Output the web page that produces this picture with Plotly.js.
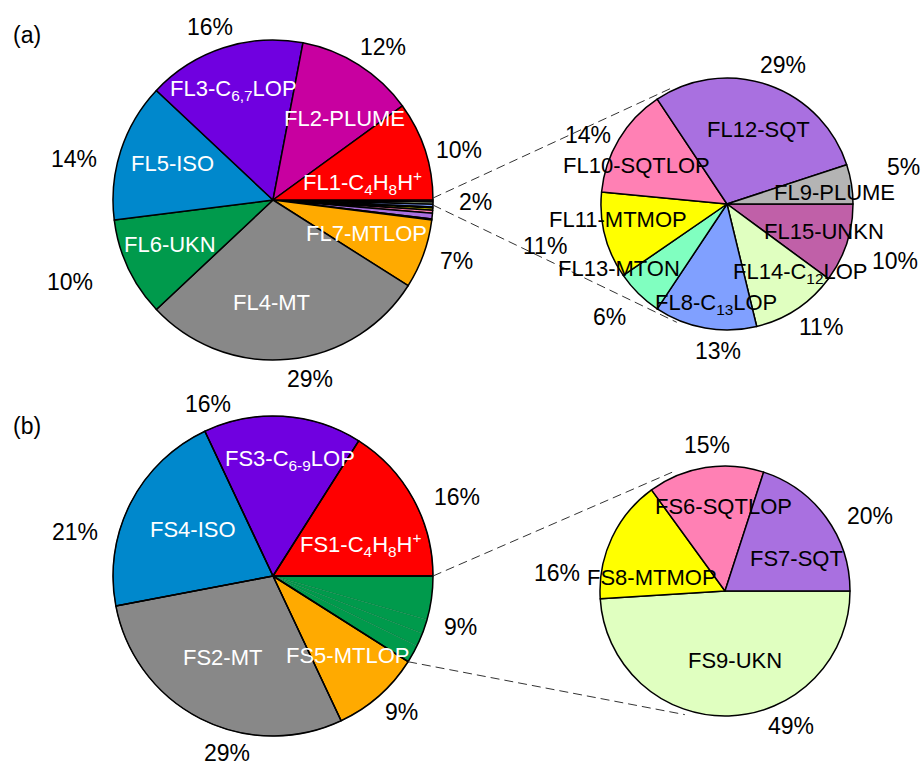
<!DOCTYPE html>
<html><head><meta charset="utf-8">
<script src="https://cdn.plot.ly/plotly-3.0.1.min.js"></script>
<style>html,body{margin:0;padding:0;background:#fff;overflow:hidden}</style>
</head><body><div id="chart" style="width:922px;height:768px"></div>
<script>
// ---------------- data ----------------
const bigA_labels = ['FL1-C<sub>4</sub>H<sub>8</sub>H<sup>+</sup>', 'FL2-PLUME', 'FL3-C<sub>6,7</sub>LOP', 'FL5-ISO', 'FL6-UKN', 'FL4-MT', 'FL7-MTLOP'];
const bigA_values = [10, 12, 16, 14, 10, 29, 7];
const otherA_value = 2;   // FL8–FL15 combined
const smallA_labels = ['FL9-PLUME', 'FL12-SQT', 'FL10-SQTLOP', 'FL11-MTMOP', 'FL13-MTON', 'FL8-C<sub>13</sub>LOP', 'FL14-C<sub>12</sub>LOP', 'FL15-UNKN'];
const smallA_values = [5, 29, 14, 11, 6, 13, 11, 10];

const bigB_labels = ['FS1-C<sub>4</sub>H<sub>8</sub>H<sup>+</sup>', 'FS3-C<sub>6-9</sub>LOP', 'FS4-ISO', 'FS2-MT', 'FS5-MTLOP'];
const bigB_values = [16, 16, 21, 29, 9];
const otherB_value = 9;   // FS6–FS9 combined
const smallB_labels = ['FS7-SQT', 'FS6-SQTLOP', 'FS8-MTMOP', 'FS9-UKN'];
const smallB_values = [20, 15, 16, 49];

// ---------------- styles ----------------
const bigA_colors = ['#ff0000', '#c800a0', '#7000e0', '#0088cc', '#009a4c', '#888888', '#ffaa00'];
const smallA_colors = ['#b4b4b4', '#a970e0', '#ff80b4', '#ffff00', '#80ffc0', '#80a0ff', '#e0ffc0', '#c060a8'];
const bigB_colors = ['#ff0000', '#7000e0', '#0088cc', '#888888', '#ffaa00'];
const otherB_color = '#009a4c';
const smallB_colors = ['#a970e0', '#ff80b4', '#ffff00', '#e0ffc0'];

const W = 922, H = 768;
const FONT = 'Arial, "Liberation Sans", Helvetica, sans-serif';
const FS = 22, FS_PCT = 23;
const geo = {
  bigA:   {cx: 273, cy: 200, r: 160},
  smallA: {cx: 727, cy: 204, r: 126},
  bigB:   {cx: 273, cy: 576, r: 160},
  smallB: {cx: 725, cy: 591, r: 125}
};
// label placement: [angle shift (deg), radius fraction]
const labelPlace = {
  bigA:   [[-7,0.57],[-9,0.68],[2,0.73],[-2,0.67],[-2,0.70],[-6,0.64],[0,0.62]],
  smallA: [[-3,0.86],[-4,0.64],[8,0.78],[-6.5,0.87],[-14.5,1.0],[4,0.8],[13.4,0.8],[2.2,0.8]],
  bigB:   [[-9,0.58],[-4.7,0.73],[-3,0.58],[-5,0.60],[1.6,0.68]],
  smallB: [[-11.4,0.63],[-8,0.68],[14.7,0.59],[6.2,0.56]]
};
// percent placement: [angle shift (deg), extra radius (px)]
const pctPlace = {
  bigA:   [[-1,-10],[0,0],[0,0],[5,0],[-1,18],[5,0],[0,0],[3,8]],
  smallA: [[3.5,20],[0,0],[1,-10],[0,18],[1,9],[7,0],[0,0],[-3,10]],
  bigB:   [[-3,0],[22,0],[13,0],[14,0],[0,0],[0,0]],
  smallB: [[-5,0],[-3,0],[18,0],[21,0]]
};
// connector lines: angles on the big pie (null = slice boundary) and on the small pie
const connA = {bigAngles: [0.7, -1.8], smallAngles: [115, 247], radFactor: 1.02};
const connB = {bigAngles: [null, null], smallAngles: [114, 252], radFactor: 1.04};

// ---------------- helpers ----------------
const sum = a => a.reduce((s, v) => s + v, 0);
const rev = a => a.slice().reverse();
function domainOf(g) {
  return {x: [(g.cx - g.r) / W, (g.cx + g.r) / W], y: [1 - (g.cy + g.r) / H, 1 - (g.cy - g.r) / H]};
}
function pol(g, ang, rad) {
  const a = ang * Math.PI / 180;
  return [g.cx + rad * Math.cos(a), g.cy - rad * Math.sin(a)];
}
function mids(values) {
  const t = sum(values); let acc = 0;
  return values.map(v => { const m = (acc + v / 2) / t * 360; acc += v; return m; });
}
function bounds(values) {
  const t = sum(values); let acc = 0;
  return values.map(v => { const s = acc / t * 360; acc += v; return [s, acc / t * 360]; });
}
function textW(s, fs) {
  let w = 0;
  for (const ch of s) w += (ch === '%') ? 0.889 : 0.556;
  return w * fs;
}
// pies drawn clockwise from 3 o'clock with reversed order == counter-clockwise order from 3 o'clock
function pieTrace(g, names, values, colors, lineColors, lw) {
  return {
    type: 'pie', labels: rev(names), values: rev(values), sort: false,
    direction: 'clockwise', rotation: 90, textinfo: 'none', hoverinfo: 'skip',
    showlegend: false, domain: domainOf(g),
    marker: {colors: rev(colors), line: {color: rev(lineColors), width: lw}}
  };
}

// ---------------- traces ----------------
const otherA_parts = smallA_values.map(v => v / sum(smallA_values) * otherA_value);
const otherB_parts = smallB_values.map(v => v / sum(smallB_values) * otherB_value);
const black = n => Array(n).fill('#000');

const traces = [];
traces.push(pieTrace(geo.bigA, bigA_labels.concat(smallA_labels), bigA_values.concat(otherA_parts),
  bigA_colors.concat(smallA_colors), black(bigA_values.length + smallA_values.length), 1.5));
traces.push(pieTrace(geo.smallA, smallA_labels, smallA_values, smallA_colors, black(smallA_values.length), 1.5));
traces.push(pieTrace(geo.bigB, bigB_labels.concat(smallB_labels), bigB_values.concat(otherB_parts),
  bigB_colors.concat(smallB_values.map(() => otherB_color)),
  black(bigB_values.length).concat(smallB_values.map(() => 'rgba(0,70,35,0.35)')), 0.6));
traces.push(pieTrace(geo.bigB, bigB_labels.concat(['FS6–FS9']), bigB_values.concat([otherB_value]),
  Array(bigB_values.length + 1).fill('rgba(0,0,0,0)'), black(bigB_values.length + 1), 1.5));
traces.push(pieTrace(geo.smallB, smallB_labels, smallB_values, smallB_colors, black(smallB_values.length), 1.5));

// ---------------- annotations ----------------
const ann = [];
function addLabels(g, labels, values, place, color) {
  const m = mids(values);
  labels.forEach((lab, i) => {
    const p = pol(g, m[i] + place[i][0], place[i][1] * g.r);
    ann.push({text: lab, x: p[0] / W, y: 1 - p[1] / H, xref: 'paper', yref: 'paper',
      xanchor: 'center', yanchor: 'middle', showarrow: false,
      font: {family: FONT, size: FS, color: color}});
  });
}
function addPcts(g, values, place) {
  const m = mids(values);
  values.forEach((v, i) => {
    const txt = Math.round(v / sum(values) * 100) + '%';
    const ang = m[i] + place[i][0];
    const a = ang * Math.PI / 180, ux = Math.cos(a), uy = Math.sin(a);
    const rad = g.r + 10 + place[i][1];
    const hw = textW(txt, FS_PCT) / 2, hh = FS_PCT / 2;
    const px = g.cx + rad * ux + 1.5 * hw * ux;
    const py = g.cy - (rad * uy + hh * uy);
    ann.push({text: txt, x: px / W, y: 1 - py / H, xref: 'paper', yref: 'paper',
      xanchor: 'center', yanchor: 'middle', showarrow: false,
      font: {family: FONT, size: FS_PCT, color: '#000'}});
  });
}
addLabels(geo.bigA, bigA_labels, bigA_values.concat([otherA_value]), labelPlace.bigA, '#fff');
addLabels(geo.smallA, smallA_labels, smallA_values, labelPlace.smallA, '#000');
addLabels(geo.bigB, bigB_labels, bigB_values.concat([otherB_value]), labelPlace.bigB, '#fff');
addLabels(geo.smallB, smallB_labels, smallB_values, labelPlace.smallB, '#000');
addPcts(geo.bigA, bigA_values.concat([otherA_value]), pctPlace.bigA);
addPcts(geo.smallA, smallA_values, pctPlace.smallA);
addPcts(geo.bigB, bigB_values.concat([otherB_value]), pctPlace.bigB);
addPcts(geo.smallB, smallB_values, pctPlace.smallB);

ann.push({text: '(a)', x: 27 / W, y: 1 - 35 / H, xref: 'paper', yref: 'paper', xanchor: 'center', yanchor: 'middle',
  showarrow: false, font: {family: FONT, size: FS_PCT, color: '#000'}});
ann.push({text: '(b)', x: 27 / W, y: 1 - 426 / H, xref: 'paper', yref: 'paper', xanchor: 'center', yanchor: 'middle',
  showarrow: false, font: {family: FONT, size: FS_PCT, color: '#000'}});

// ---------------- connector lines ----------------
const shapes = [];
function addConn(gBig, bigVals, gSmall, conn) {
  const b = bounds(bigVals);
  const last = b[b.length - 1];
  const bigAng = [conn.bigAngles[0] ?? last[1], conn.bigAngles[1] ?? last[0]];
  [0, 1].forEach(k => {
    const p0 = pol(gBig, bigAng[k], gBig.r);
    const p1 = pol(gSmall, conn.smallAngles[k], gSmall.r * conn.radFactor);
    shapes.push({type: 'line', xref: 'paper', yref: 'paper',
      x0: p0[0] / W, y0: 1 - p0[1] / H, x1: p1[0] / W, y1: 1 - p1[1] / H,
      line: {color: '#333', width: 1, dash: '9px,5px'}});
  });
}
addConn(geo.bigA, bigA_values.concat([otherA_value]), geo.smallA, connA);
addConn(geo.bigB, bigB_values.concat([otherB_value]), geo.smallB, connB);

Plotly.newPlot('chart', traces, {
  width: W, height: H, margin: {l: 0, r: 0, t: 0, b: 0},
  paper_bgcolor: '#fff', plot_bgcolor: '#fff', showlegend: false,
  annotations: ann, shapes: shapes, font: {family: FONT}
}, {staticPlot: true, displayModeBar: false});
</script>
</body></html>
